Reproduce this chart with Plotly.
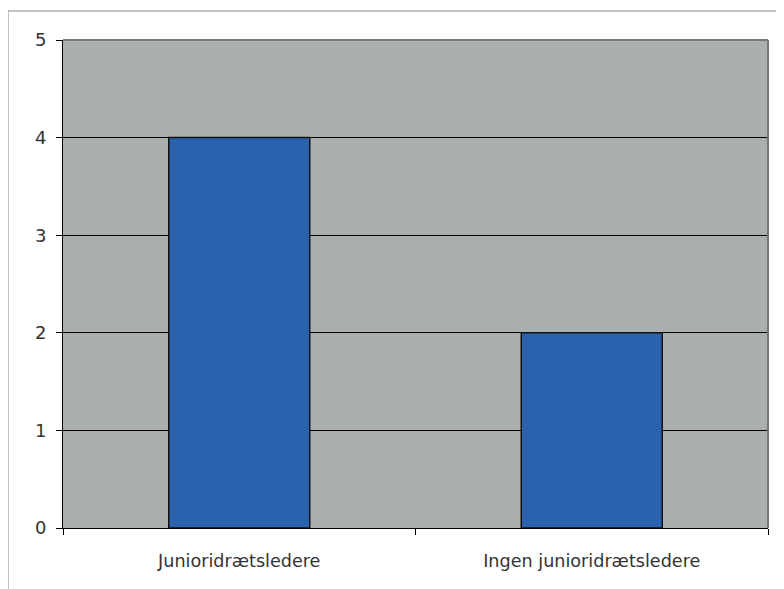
import plotly.graph_objects as go

categories = ["Junioridrætsledere", "Ingen junioridrætsledere"]
values = [4, 2]
y_ticks = [0, 1, 2, 3, 4, 5]

# page body has an 8px offset, so the figure is drawn in shifted coordinates
OFF = 8
W, H = 784 - OFF, 589 - OFF
L, R, T, B = 63 - OFF, 16, 40 - OFF, 61
pw, ph = W - L - R, H - T - B

def px(x):
    return (x - OFF - L) / pw

def py(y):
    return (H - B - (y - OFF)) / ph

fig = go.Figure(go.Bar(
    x=categories, y=values, width=0.4,
    marker=dict(color="#2A62AD", line=dict(color="#111111", width=1.5)),
))

fig.update_layout(
    width=W, height=H,
    margin=dict(l=L, r=R, t=T, b=B),
    paper_bgcolor="white",
    plot_bgcolor="#ACAFAF",
    showlegend=False,
    font=dict(family="DejaVu Sans", color="#333333"),
    shapes=[
        dict(type="line", xref="paper", yref="paper", x0=px(8), x1=px(800), y0=py(11), y1=py(11),
             line=dict(color="#888888", width=1)),
        dict(type="line", xref="paper", yref="paper", x0=px(8), x1=px(8), y0=py(11), y1=py(600),
             line=dict(color="#888888", width=1)),
        dict(type="line", xref="paper", yref="paper", x0=0, x1=1, y0=1, y1=1,
             line=dict(color="#777777", width=2)),
        dict(type="line", xref="paper", yref="paper", x0=1, x1=1, y0=0, y1=1,
             line=dict(color="#777777", width=2)),
    ],
)

fig.update_xaxes(
    showline=True, linecolor="black", linewidth=1,
    ticks="outside", tickson="boundaries", ticklen=6, tickcolor="black",
    showgrid=False, tickfont=dict(size=17.6, color="#333333"),
    ticklabelstandoff=17,
)
fig.update_yaxes(
    range=[0, 5], tickvals=y_ticks,
    showline=True, linecolor="black", linewidth=1,
    ticks="outside", ticklen=6, tickcolor="black",
    showgrid=True, gridcolor="black", gridwidth=1,
    zeroline=False,
    tickfont=dict(size=18, color="#333333"),
    ticklabelstandoff=6,
)

fig.write_html("out.html")
